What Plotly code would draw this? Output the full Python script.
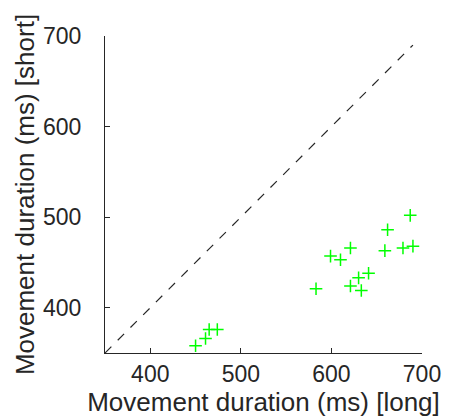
import plotly.graph_objects as go

long_ms = [450, 461, 465, 474, 583, 599, 610, 621, 621, 630, 633, 641, 659, 662, 679, 690, 687]
short_ms = [358, 366, 376, 376, 421, 457, 453, 466, 424, 433, 419, 438, 463, 486, 466, 468, 502]
identity_line = [350, 690]
tick_vals = [400, 500, 600, 700]

FONT = "Liberation Sans, Arial"
fig = go.Figure()
fig.add_trace(go.Scatter(x=identity_line, y=identity_line, mode="lines",
                         line=dict(color="#262626", width=1.2, dash="dash"),
                         showlegend=False, hoverinfo="skip"))
fig.add_trace(go.Scatter(x=long_ms, y=short_ms, mode="markers",
                         marker=dict(symbol="cross-thin", size=9,
                                     line=dict(color="#00ff00", width=1.5)),
                         showlegend=False))

axis_common = dict(range=[350, 700], tickvals=tick_vals, ticks="inside", ticklen=5,
                   tickcolor="#262626", showline=True, linecolor="#262626", linewidth=1,
                   showgrid=False, zeroline=False,
                   tickfont=dict(family=FONT, size=23, color="#262626"))
fig.update_xaxes(**axis_common, ticklabelstandoff=0,
                 title=dict(text="Movement duration (ms) [long]", standoff=0,
                            font=dict(family=FONT, size=26, color="#262626")))
fig.update_yaxes(**axis_common, ticklabelstandoff=18,
                 title=dict(text="Movement duration (ms) [short]", standoff=0,
                            font=dict(family=FONT, size=26, color="#262626")))
fig.update_layout(width=451, height=420, plot_bgcolor="white", paper_bgcolor="white",
                  margin=dict(l=105, r=29, t=36, b=67, autoexpand=False))
fig.write_html("out.html")
